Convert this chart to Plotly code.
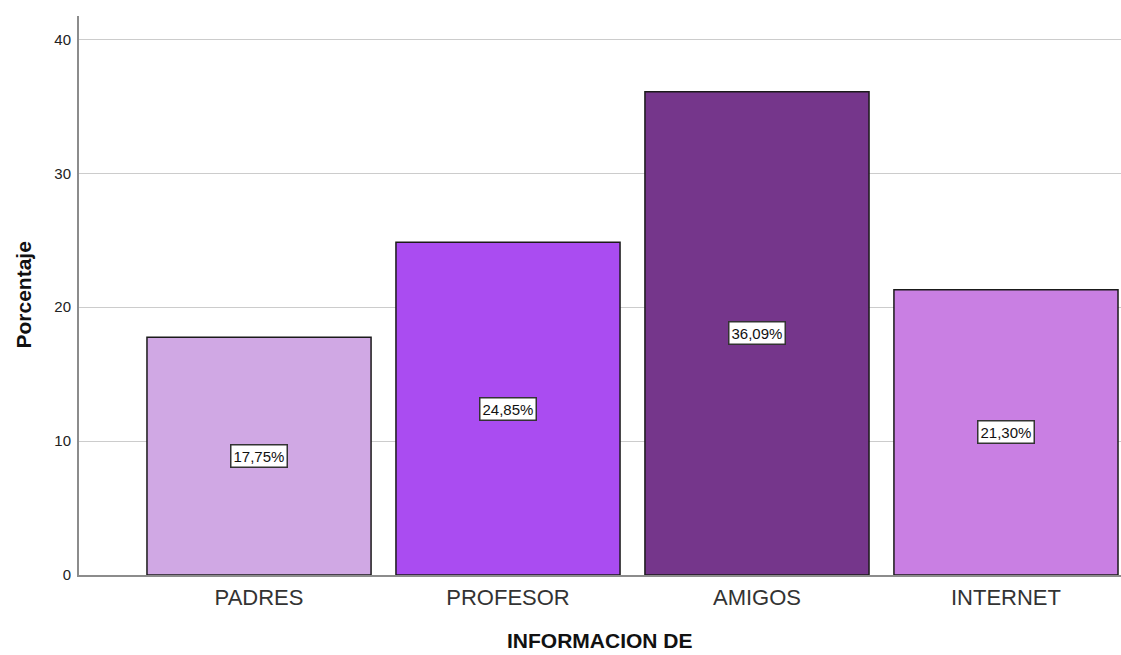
import plotly.graph_objects as go

categories = ["PADRES", "PROFESOR", "AMIGOS", "INTERNET"]
values = [17.75, 24.85, 36.09, 21.30]
colors = ["#d0a8e4", "#aa4cf1", "#75368b", "#c97fe3"]
y_ticks = [0, 10, 20, 30, 40]

x_pos = list(range(len(categories)))
FONT = "Arial, Liberation Sans, sans-serif"

fig = go.Figure()
fig.add_trace(go.Bar(
    x=x_pos, y=values, width=0.9,
    marker=dict(color=colors, line=dict(color="#1a1a1a", width=1.5)),
    hoverinfo="skip",
))

for i, v in enumerate(values):
    fig.add_annotation(
        x=i, y=v / 2, xref="x", yref="y",
        text=f"{v:.2f}%".replace(".", ","),
        showarrow=False,
        font=dict(family=FONT, size=15, color="#111"),
        bgcolor="white", bordercolor="#333", borderwidth=1.5, borderpad=2,
    )

fig.add_annotation(
    x=0.5, y=0, xref="paper", yref="paper", yanchor="middle", yshift=-65,
    text="<b>INFORMACION DE</b>", showarrow=False,
    font=dict(family=FONT, size=21, color="#111"),
)
fig.add_annotation(
    x=0, y=0.5, xref="paper", yref="paper", xanchor="center", xshift=-56,
    text="<b>Porcentaje</b>", showarrow=False, textangle=-90,
    font=dict(family=FONT, size=21, color="#111"),
)

fig.update_layout(
    width=1121, height=655,
    margin=dict(l=79, r=0, t=16, b=80),
    paper_bgcolor="white", plot_bgcolor="white",
    showlegend=False,
)
fig.update_xaxes(
    range=[-0.723, 3.462],
    tickvals=x_pos, ticktext=categories,
    tickfont=dict(family=FONT, size=22, color="#333"),
    showgrid=False, showline=True, linecolor="#8c8c8c", linewidth=2,
    ticks="", ticklabelstandoff=2, zeroline=False, fixedrange=True,
)
fig.update_yaxes(
    range=[0, 41.75],
    tickvals=y_ticks,
    tickfont=dict(family=FONT, size=15, color="#222"),
    showgrid=True, gridcolor="#cccccc", gridwidth=1,
    showline=True, linecolor="#8c8c8c", linewidth=2,
    ticks="", ticklabelstandoff=3, zeroline=False, fixedrange=True,
)

fig.write_html(
    "out.html",
    config={"displayModeBar": False},
    post_script="document.body.style.margin='0';document.body.style.overflow='hidden';",
)
